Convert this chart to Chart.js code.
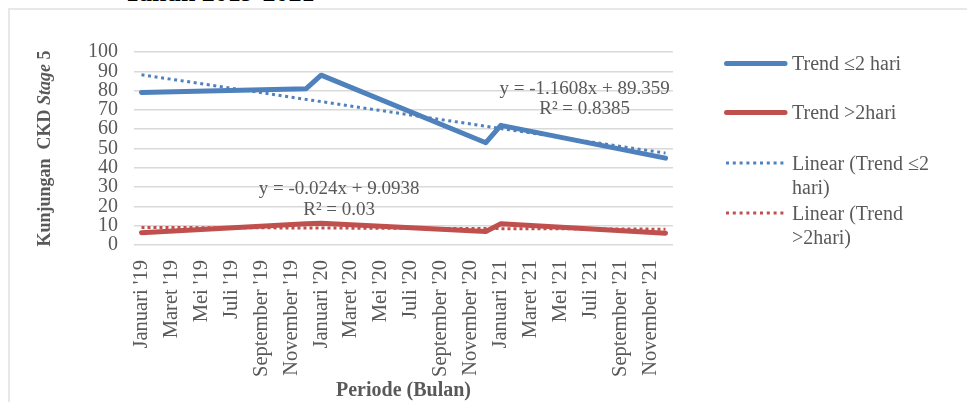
<!DOCTYPE html>
<html>
<head>
<meta charset="utf-8">
<script src="https://cdn.jsdelivr.net/npm/chart.js@4.4.1/dist/chart.umd.min.js"></script>
<style>
    body { margin: 0; background: #fff; font-family: 'Liberation Serif', 'Times New Roman', serif; }
    #wrap { position: relative; width: 967px; height: 402px; overflow: hidden; }
    #frame { position: absolute; left: 8px; top: 8px; right: -2px; bottom: -2px; border-top: 2px solid #e8e8e8; border-left: 2px solid #e8e8e8; }
    #title { position: absolute; left: 124px; top: -20px; font-size: 26px; font-weight: bold; color: #000; line-height: 26px; white-space: nowrap; }
    #chart { position: absolute; left: 0; top: 0; }
    .leg { position: absolute; left: 724px; width: 240px; color: #595959; font-size: 20px; line-height: 24px; }
    .leg svg { position: absolute; left: 0; top: 10px; }
    .leg span { position: absolute; left: 68px; width: 162px; }
</style>
</head>
<body>
<div id="wrap">
    <div id="frame"></div>
    <div id="title">Tahun 2019-2021</div>
    <canvas id="chart" width="967" height="402"></canvas>
    <div id="legend"></div>
</div>
<script>
/**
 * Kunjungan CKD Stage 5, 2019-2021
 */

const monthNames = ['Januari', 'Februari', 'Maret', 'April', 'Mei', 'Juni', 'Juli', 'Agustus', 'September', 'Oktober', 'November', 'Desember'];
const yearTags = ["'19", "'20", "'21"];
const categories = yearTags.flatMap(y => monthNames.map(m => m + ' ' + y));

// values (line is straight between these months)
const trendLeq2 = [
    79, null, null, null, null, null, null, null, null, null, null, 81,
    88, null, null, null, null, null, null, null, null, null, null, 53,
    62, null, null, null, null, null, null, null, null, null, null, 45
];
const trendGt2 = [
    6.4, null, null, null, null, null, null, null, null, null, null, 11,
    11.3, null, null, null, null, null, null, null, null, null, null, 7,
    11, null, null, null, null, null, null, null, null, null, null, 6.1
];

// linear trend, first and last month
const linearLeq2Ends = [88.2, 47.6];
const linearGt2Ends = [9.1, 8.2];

const yTicks = [0, 10, 20, 30, 40, 50, 60, 70, 80, 90, 100];

const seriesNames = ['Trend \u22642 hari', 'Trend >2hari', 'Linear (Trend \u22642 hari)', 'Linear (Trend >2hari)'];
const eqLeq2 = ['y = -1.1608x + 89.359', 'R\u00b2 = 0.8385'];
const eqGt2 = ['y = -0.024x + 9.0938', 'R\u00b2 = 0.03'];

const BLUE = '#4f81bd';
const RED = '#c0504d';
const GREY = '#595959';
const SERIF = "'Liberation Serif', 'Times New Roman', serif";

function endsToSeries(ends) {
    const arr = categories.map(() => null);
    arr[0] = ends[0];
    arr[arr.length - 1] = ends[1];
    return arr;
}

const textPlugin = {
    id: 'textPlugin',
    afterDraw(chart) {
        const ctx = chart.ctx;
        const a = chart.chartArea;
        const xs = chart.scales.x;
        const ys = chart.scales.y;
        ctx.save();
        ctx.fillStyle = GREY;
        ctx.textBaseline = 'middle';

        // trend equations
        ctx.font = '19px ' + SERIF;
        ctx.textAlign = 'center';
        const bx = xs.getPixelForValue(29.6);
        ctx.fillText(eqLeq2[0], bx, ys.getPixelForValue(80.6));
        ctx.fillText(eqLeq2[1], bx, ys.getPixelForValue(70.2));
        const rx = xs.getPixelForValue(13.2);
        ctx.fillText(eqGt2[0], rx, ys.getPixelForValue(29.2));
        ctx.fillText(eqGt2[1], rx, ys.getPixelForValue(18.2));

        // x title
        ctx.font = 'bold 20px ' + SERIF;
        ctx.fillText('Periode (Bulan)', (a.left + a.right) / 2, 391);

        // y title with italic "Stage"
        const parts = [
            ['Kunjungan  CKD ', 'bold 18px ' + SERIF],
            ['Stage', 'italic bold 18px ' + SERIF],
            [' 5', 'bold 18px ' + SERIF]
        ];
        let total = 0;
        parts.forEach(p => { ctx.font = p[1]; total += ctx.measureText(p[0]).width; });
        ctx.translate(45, (a.top + a.bottom) / 2);
        ctx.rotate(-Math.PI / 2);
        ctx.textAlign = 'left';
        let x = -total / 2;
        parts.forEach(p => {
            ctx.font = p[1];
            ctx.fillText(p[0], x, 0);
            x += ctx.measureText(p[0]).width;
        });
        ctx.restore();
    }
};

const chart = new Chart(document.getElementById('chart').getContext('2d'), {
    type: 'line',
    data: {
        labels: categories,
        datasets: [
            {
                label: seriesNames[2],
                data: endsToSeries(linearLeq2Ends),
                borderColor: BLUE,
                borderWidth: 3,
                borderDash: [3, 3.6],
                spanGaps: true,
                pointRadius: 0,
                order: 0
            },
            {
                label: seriesNames[3],
                data: endsToSeries(linearGt2Ends),
                borderColor: RED,
                borderWidth: 3,
                borderDash: [3, 3],
                spanGaps: true,
                pointRadius: 0,
                order: 0
            },
            {
                label: seriesNames[0],
                data: trendLeq2,
                borderColor: BLUE,
                borderWidth: 5,
                borderJoinStyle: 'round',
                borderCapStyle: 'round',
                spanGaps: true,
                pointRadius: 0,
                order: 1
            },
            {
                label: seriesNames[1],
                data: trendGt2,
                borderColor: RED,
                borderWidth: 5,
                borderJoinStyle: 'round',
                borderCapStyle: 'round',
                spanGaps: true,
                pointRadius: 0,
                order: 1
            }
        ]
    },
    options: {
        responsive: false,
        animation: false,
        layout: { padding: { left: 60, right: 294, top: 52, bottom: 10 } },
        plugins: {
            legend: { display: false },
            tooltip: { enabled: false }
        },
        scales: {
            x: {
                offset: true,
                grid: { display: false },
                border: { display: false },
                ticks: {
                    autoSkip: false,
                    minRotation: 90,
                    maxRotation: 90,
                    padding: 7,
                    color: GREY,
                    font: { family: SERIF, size: 20.5 },
                    callback: (v, i) => i % 2 === 0 ? categories[i] : ''
                },
                afterFit: (s) => { s.height = 147; }
            },
            y: {
                min: 0,
                max: 100,
                afterBuildTicks: (s) => { s.ticks = yTicks.map(v => ({ value: v })); },
                grid: { color: '#d9d9d9', lineWidth: 1.5, drawTicks: false },
                border: { display: false },
                ticks: {
                    autoSkip: false,
                    padding: 16,
                    color: GREY,
                    font: { family: SERIF, size: 20 }
                },
                afterFit: (s) => { s.width = 74; }
            }
        }
    },
    plugins: [textPlugin]
});

/**
 * HTML legend (text wraps like the original)
 */
function renderLegend() {
    const tops = [51, 100, 151, 201];
    const styles = [
        { color: BLUE, dotted: false },
        { color: RED, dotted: false },
        { color: BLUE, dotted: true },
        { color: RED, dotted: true }
    ];
    const box = document.getElementById('legend');
    seriesNames.forEach((name, i) => {
        const st = styles[i];
        const item = document.createElement('div');
        item.className = 'leg';
        item.style.top = tops[i] + 'px';
        const line = st.dotted
            ? `<line x1="2" y1="2" x2="62" y2="2" stroke="${st.color}" stroke-width="3" stroke-dasharray="3 3.8"/>`
            : `<line x1="2.5" y1="2.5" x2="61" y2="2.5" stroke="${st.color}" stroke-width="5" stroke-linecap="round"/>`;
        item.innerHTML = `<svg width="64" height="5">${line}</svg><span>${name}</span>`;
        box.appendChild(item);
    });
}

renderLegend();
</script>
</body>
</html>
